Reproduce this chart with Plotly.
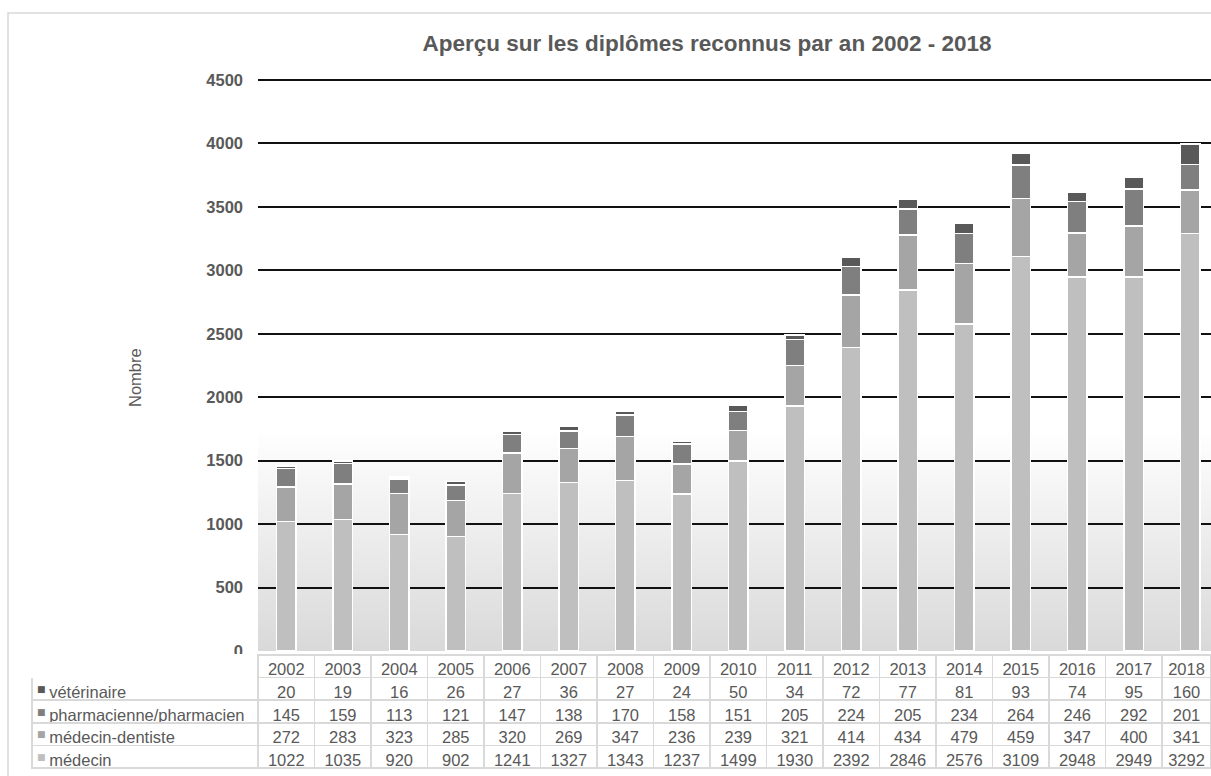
import base64
import plotly.graph_objects as go

years = [2002, 2003, 2004, 2005, 2006, 2007, 2008, 2009, 2010,
         2011, 2012, 2013, 2014, 2015, 2016, 2017, 2018]
medecin = [1022, 1035, 920, 902, 1241, 1327, 1343, 1237, 1499,
           1930, 2392, 2846, 2576, 3109, 2948, 2949, 3292]
dentiste = [272, 283, 323, 285, 320, 269, 347, 236, 239,
            321, 414, 434, 479, 459, 347, 400, 341]
pharma = [145, 159, 113, 121, 147, 138, 170, 158, 151,
          205, 224, 205, 234, 264, 246, 292, 201]
veto = [20, 19, 16, 26, 27, 36, 27, 24, 50,
        34, 72, 77, 81, 93, 74, 95, 160]

names = ['médecin', 'médecin-dentiste', 'pharmacienne/pharmacien', 'vétérinaire']
colors = ['#bfbfbf', '#a5a5a5', '#7f7f7f', '#595959']
series = [medecin, dentiste, pharma, veto]

W, H = 1211, 776
txt = '#595959'
border = '#d9d9d9'
font = 'Liberation Sans, Arial, sans-serif'

fig = go.Figure()

for name, col, vals in zip(names, colors, series):
    fig.add_trace(go.Bar(
        x=years, y=vals, name=name,
        marker=dict(color=col, line=dict(color='white', width=1.5)),
        width=0.34, showlegend=False))

# data table under the chart (top row first)
order = [3, 2, 1, 0]
nb = '\u00a0'
labels = [nb * 2 + names[i] for i in order]
cols = [labels] + [[str(series[i][k]) for i in order] for k in range(len(years))]

tbl_top = 655
row_h = 22.6
px_first = 226
px_col = 56.5
last = (W - 32) - px_first - px_col * (len(years) - 1)
fig.add_trace(go.Table(
    domain=dict(x=[32 / W, 1], y=[0, (H - tbl_top) / H]),
    columnwidth=[px_first] + [px_col] * (len(years) - 1) + [last],
    header=dict(values=[''] + [str(y) for y in years],
                height=row_h,
                fill=dict(color='white'),
                line=dict(color=['white'] + [border] * len(years), width=1.5),
                font=dict(family=font, size=16.5, color=txt),
                align='center'),
    cells=dict(values=cols,
               height=row_h,
               fill=dict(color='white'),
               line=dict(color=border, width=1.5),
               font=dict(family=font, size=16.5, color=txt),
               align=['left'] + ['center'] * len(years)),
))

# legend keys drawn in the label column of the table
keys = []
for r, i in enumerate(order):
    yc = tbl_top + row_h * (1.5 + r)
    keys.append(dict(text='■', xref='paper', yref='paper', x=42 / W, y=1 - yc / H,
                     xanchor='center', yanchor='middle', showarrow=False,
                     font=dict(family='DejaVu Sans', size=9, color=colors[i])))

# soft grey gradient behind the lower part of the plot
svg = ('<svg xmlns="http://www.w3.org/2000/svg" width="10" height="100" preserveAspectRatio="none">'
       '<defs><linearGradient id="g" x1="0" y1="0" x2="0" y2="1">'
       '<stop offset="0" stop-color="#ffffff"/><stop offset="1" stop-color="#d9d9d9"/>'
       '</linearGradient></defs><rect width="10" height="100" fill="url(#g)"/></svg>')
src = 'data:image/svg+xml;base64,' + base64.b64encode(svg.encode()).decode()

x_lo = years[0] - 0.5
x_hi = x_lo + (W - 258) / px_col

y_top = 4512
px_per = (651 - 80) / 4500
top_px = 651 - y_top * px_per

fig.update_layout(
    width=W, height=H,
    margin=dict(l=0, r=0, t=0, b=0),
    paper_bgcolor='white', plot_bgcolor='rgba(0,0,0,0)',
    barmode='stack',
    font=dict(family=font, color=txt),
    title=dict(text='Aperçu sur les diplômes reconnus par an 2002 - 2018',
               x=707 / W, xanchor='center', y=1 - 43 / H, yanchor='middle',
               yref='container',
               font=dict(family=font, size=22.5, color=txt, weight='bold')),
    xaxis=dict(domain=[258 / W, 1], range=[x_lo, x_hi], showticklabels=False,
               showgrid=False, zeroline=False, automargin=False),
    yaxis=dict(domain=[(H - 651) / H, (H - top_px) / H], range=[0, y_top],
               tickvals=[0, 500, 1000, 1500, 2000, 2500, 3000, 3500, 4000, 4500],
               showgrid=True, gridcolor='#111111', gridwidth=2,
               zeroline=True, zerolinecolor='#d9d9d9', zerolinewidth=1,
               ticklabelstandoff=14, automargin=False,
               tickfont=dict(family=font, size=16.5, color=txt, weight='bold')),
    images=[dict(source=src, xref='x', yref='y', x=x_lo, y=1750,
                 sizex=x_hi - x_lo, sizey=1750, xanchor='left', yanchor='top',
                 sizing='stretch', layer='below')],
    annotations=[dict(text='Nombre', xref='paper', yref='paper',
                      x=135 / W, y=1 - 378 / H, xanchor='center', yanchor='middle',
                      textangle=-90, showarrow=False,
                      font=dict(family=font, size=16.5, color=txt))] + keys,
    shapes=[dict(type='rect', xref='paper', yref='paper',
                 x0=8 / W, x1=1.02, y0=-0.02, y1=1 - 13 / H,
                 line=dict(color=border, width=1.5))],
)

fig.write_html('out.html', config={'displayModeBar': False},
               post_script="document.body.style.margin='0';document.body.style.overflow='hidden';")
